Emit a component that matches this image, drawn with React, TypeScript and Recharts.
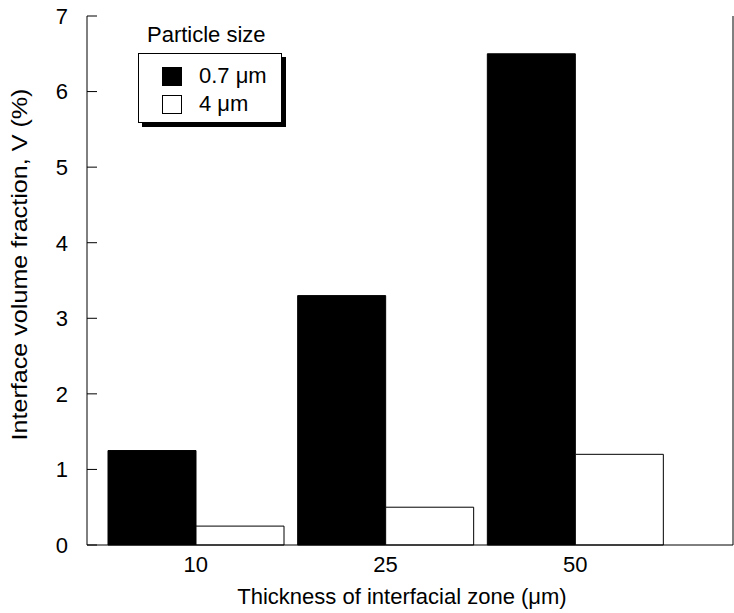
import { BarChart, Bar, XAxis, YAxis } from "recharts";

const thickness = ["10", "25", "50"];
const fine = [1.25, 3.3, 6.5];
const coarse = [0.25, 0.5, 1.2];
const yTicks = [0, 1, 2, 3, 4, 5, 6, 7];

const data = thickness.map((t, i) => ({ t, fine: fine[i], coarse: coarse[i] }));

const FONT = "'Liberation Sans', Arial, Helvetica, sans-serif";

const LeftTick = ({ x, y, payload }: any) => (
  <g>
    <line x1={x} x2={x + 10} y1={y} y2={y} stroke="#000" strokeWidth={1} />
    <text x={x - 19} y={y} dy="0.36em" textAnchor="end" fontSize={22} fontFamily={FONT} fill="#000">
      {payload.value}
    </text>
  </g>
);

const RightTick = ({ x, y, payload }: any) =>
  payload.value === 0 || payload.value === 7 ? null : (
    <line x1={x - 10} x2={x} y1={y} y2={y} stroke="#000" strokeWidth={1} />
  );

const YTitle = ({ viewBox }: any) => {
  const cx = viewBox.x + 19;
  const cy = viewBox.y + viewBox.height / 2 - 16;
  return (
    <text
      x={cx}
      y={cy}
      transform={`rotate(-90 ${cx} ${cy})`}
      textAnchor="middle"
      dominantBaseline="central"
      fontSize={22}
      textLength={352}
      lengthAdjust="spacingAndGlyphs"
      fontFamily={FONT}
      fill="#000"
    >
      Interface volume fraction, V (%)
    </text>
  );
};

const XTitle = ({ viewBox }: any) => (
  <text
    x={viewBox.x + viewBox.width / 2 - 8}
    y={viewBox.y + viewBox.height - 9}
    textAnchor="middle"
    fontSize={22}
    fontFamily={FONT}
    fill="#000"
  >
    {"Thickness of interfacial zone (\u03bcm)"}
  </text>
);

const LegendBox = () => (
  <div style={{ position: "absolute", left: 0, top: 0, fontFamily: FONT, color: "#000" }}>
    <div style={{ position: "absolute", left: 147, top: 22, fontSize: 22, lineHeight: "26px", whiteSpace: "nowrap" }}>
      Particle size
    </div>
    <div
      style={{
        position: "absolute",
        left: 138,
        top: 53,
        width: 144,
        height: 70,
        border: "1px solid #000",
        boxShadow: "4px 4px 0 #000",
        background: "#fff",
        boxSizing: "border-box",
        paddingTop: 8,
        paddingLeft: 23,
      }}
    >
      {[
        { label: "0.7 \u03bcm", fill: "#000" },
        { label: "4 \u03bcm", fill: "#fff" },
      ].map((e) => (
        <div key={e.label} style={{ display: "flex", alignItems: "center", height: 28, whiteSpace: "nowrap" }}>
          <span
            style={{
              display: "inline-block",
              width: 20,
              height: 19,
              background: e.fill,
              border: "1px solid #000",
              boxSizing: "border-box",
              marginRight: 17,
            }}
          />
          <span style={{ fontSize: 22 }}>{e.label}</span>
        </div>
      ))}
    </div>
  </div>
);

export default function App() {
  return (
    <div style={{ position: "absolute", left: 0, top: 0, width: 734, height: 613, background: "#fff" }}>
      <BarChart
        width={734}
        height={613}
        data={data}
        margin={{ top: 16, right: 0, bottom: 0, left: 0 }}
        barGap={0}
        barSize={88}
      >
        <XAxis
          dataKey="t"
          height={68}
          padding={{ left: 14, right: 63 }}
          axisLine={{ stroke: "#000" }}
          tickLine={false}
          tickSize={0}
          tickMargin={11}
          tick={{ fill: "#000", fontSize: 22, fontFamily: FONT }}
          label={<XTitle />}
        />
        <XAxis xAxisId="top" dataKey="t" orientation="top" height={0} tick={false} tickLine={false} axisLine={{ stroke: "#000" }} />
        <YAxis
          width={87}
          domain={[0, 7]}
          ticks={yTicks}
          interval={0}
          tickLine={false}
          tickSize={0}
          tickMargin={0}
          axisLine={{ stroke: "#000" }}
          tick={<LeftTick />}
          label={<YTitle />}
        />
        <YAxis
          yAxisId="r"
          orientation="right"
          width={1}
          domain={[0, 7]}
          ticks={yTicks}
          interval={0}
          tickLine={false}
          tickSize={0}
          tickMargin={0}
          axisLine={{ stroke: "#000" }}
          tick={<RightTick />}
        />
        <Bar dataKey="fine" fill="#000" stroke="#000" isAnimationActive={false} />
        <Bar dataKey="coarse" fill="#fff" stroke="#000" isAnimationActive={false} />
      </BarChart>
      <LegendBox />
    </div>
  );
}
